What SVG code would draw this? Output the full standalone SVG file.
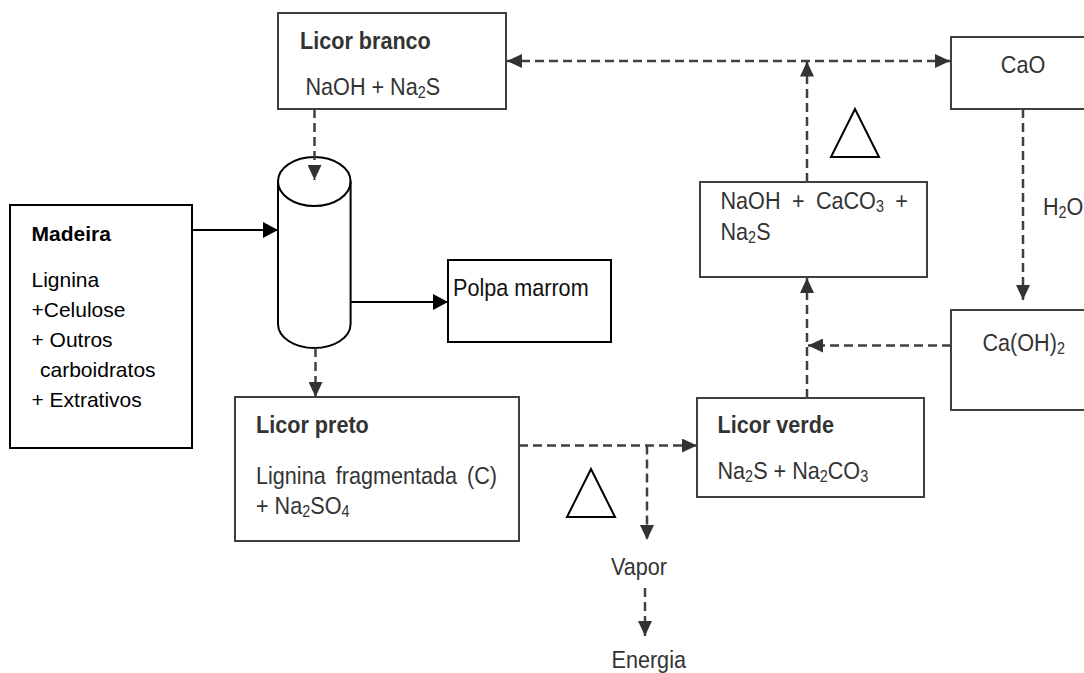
<svg xmlns="http://www.w3.org/2000/svg" width="1084" height="673" viewBox="0 0 1084 673">
<style>
.t{font-family:"Liberation Sans",Arial,sans-serif;font-size:24px;fill:#333}
.b{font-weight:bold}
.m{font-family:"Liberation Sans",Arial,sans-serif;font-size:21px;fill:#000}
.box{fill:#fff;stroke:#404040;stroke-width:2}
.boxk{fill:#fff;stroke:#000;stroke-width:2}
.d{fill:none;stroke:#404040;stroke-width:2.5;stroke-dasharray:9 5}
.s{fill:none;stroke:#000;stroke-width:2}
.tri{fill:none;stroke:#000;stroke-width:2}
</style>
<defs>
<marker id="ag" markerUnits="userSpaceOnUse" markerWidth="16" markerHeight="14" refX="15" refY="7" orient="auto-start-reverse"><path d="M0,0 L15,7 L0,14 z" fill="#333"/></marker>
<marker id="ak" markerUnits="userSpaceOnUse" markerWidth="16" markerHeight="16" refX="15" refY="8" orient="auto"><path d="M0,0 L15,8 L0,16 z" fill="#000"/></marker>
</defs>

<g id="licor-branco">
<rect class="box" x="278" y="13" width="228" height="96"/>
<text class="t b" transform="translate(300,49) scale(0.9,1)">Licor branco</text>
<text class="t" transform="translate(305.5,95) scale(0.9,1)">NaOH + Na<tspan font-size="16" dy="3">2</tspan><tspan dy="-3">S</tspan></text>
</g>

<g id="cao">
<rect class="box" x="951" y="37" width="150" height="72"/>
<text class="t" text-anchor="middle" transform="translate(1023,73) scale(0.9,1)">CaO</text>
</g>

<g id="naoh-caco3">
<rect class="box" x="700" y="182" width="227" height="95"/>
<text class="t" word-spacing="6" transform="translate(720.5,209) scale(0.9,1)">NaOH + CaCO<tspan font-size="16" dy="3">3</tspan><tspan dy="-3"> +</tspan></text>
<text class="t" transform="translate(720.5,240) scale(0.9,1)">Na<tspan font-size="16" dy="3">2</tspan><tspan dy="-3">S</tspan></text>
</g>

<g id="h2o">
<text class="t" transform="translate(1043,215) scale(0.9,1)">H<tspan font-size="16" dy="3">2</tspan><tspan dy="-3">O</tspan></text>
</g>

<g id="caoh2">
<rect class="box" x="951" y="310" width="150" height="100"/>
<text class="t" transform="translate(982.5,351) scale(0.9,1)">Ca(OH)<tspan font-size="16" dy="3">2</tspan></text>
</g>

<g id="madeira">
<rect class="boxk" x="10" y="205" width="182" height="243"/>
<text class="m b" x="31.5" y="241">Madeira</text>
<text class="m" x="31.5" y="287">Lignina</text>
<text class="m" x="31.5" y="317">+Celulose</text>
<text class="m" x="31.5" y="347">+ Outros</text>
<text class="m" x="40" y="377">carboidratos</text>
<text class="m" x="31.5" y="407">+ Extrativos</text>
</g>

<g id="digestor">
<path class="s" d="M278,181.5 L278,324 A36.3,24 0 0 0 350.6,324 L350.6,181.5"/>
<ellipse class="s" cx="314.3" cy="181.5" rx="36.3" ry="24.5" fill="#fff"/>
</g>

<g id="polpa">
<rect class="boxk" x="448" y="260" width="163" height="82"/>
<text class="t" fill="#111" style="fill:#111" transform="translate(453,296) scale(0.9,1)">Polpa marrom</text>
</g>

<g id="licor-preto">
<rect class="box" x="235" y="397" width="284" height="144"/>
<text class="t b" transform="translate(256,432.5) scale(0.9,1)">Licor preto</text>
<text class="t" word-spacing="4.5" transform="translate(256,484) scale(0.9,1)">Lignina fragmentada (C)</text>
<text class="t" transform="translate(256,514) scale(0.9,1)">+ Na<tspan font-size="16" dy="3">2</tspan><tspan dy="-3">SO</tspan><tspan font-size="16" dy="3">4</tspan></text>
</g>

<g id="licor-verde">
<rect class="box" x="697" y="398" width="227" height="99"/>
<text class="t b" transform="translate(717.5,433) scale(0.9,1)">Licor verde</text>
<text class="t" transform="translate(717.5,479) scale(0.9,1)">Na<tspan font-size="16" dy="3">2</tspan><tspan dy="-3">S + Na</tspan><tspan font-size="16" dy="3">2</tspan><tspan dy="-3">CO</tspan><tspan font-size="16" dy="3">3</tspan></text>
</g>

<g id="vapor">
<text class="t" transform="translate(611,575) scale(0.9,1)">Vapor</text>
</g>
<g id="energia">
<text class="t" transform="translate(611.5,668) scale(0.9,1)">Energia</text>
</g>

<g id="delta-1">
<polygon class="tri" points="855,109 831,157 879,157"/>
</g>
<g id="delta-2">
<polygon class="tri" points="591,469 567,517 615,517"/>
</g>

<g id="connectors">
<line class="d" x1="507" y1="61" x2="950" y2="61" marker-start="url(#ag)" marker-end="url(#ag)"/>
<line class="d" x1="807" y1="182" x2="807" y2="61.5" marker-end="url(#ag)"/>
<line class="d" x1="1023" y1="109" x2="1023" y2="300" marker-end="url(#ag)"/>
<line class="d" x1="951" y1="345.5" x2="808" y2="345.5" marker-end="url(#ag)"/>
<line class="d" x1="807" y1="398" x2="807" y2="278" marker-end="url(#ag)"/>
<line class="d" x1="314.5" y1="109" x2="314.5" y2="180" marker-end="url(#ag)"/>
<line class="d" x1="315.5" y1="348" x2="315.5" y2="397" marker-end="url(#ag)"/>
<line class="d" x1="519" y1="445.5" x2="697" y2="445.5" marker-end="url(#ag)"/>
<line class="d" x1="647" y1="445.5" x2="647" y2="540" marker-end="url(#ag)"/>
<line class="d" x1="645" y1="588" x2="645" y2="636" marker-end="url(#ag)"/>
<line class="s" x1="192" y1="230" x2="278" y2="230" marker-end="url(#ak)"/>
<line class="s" x1="350.6" y1="302" x2="448" y2="302" marker-end="url(#ak)"/>
</g>
</svg>
